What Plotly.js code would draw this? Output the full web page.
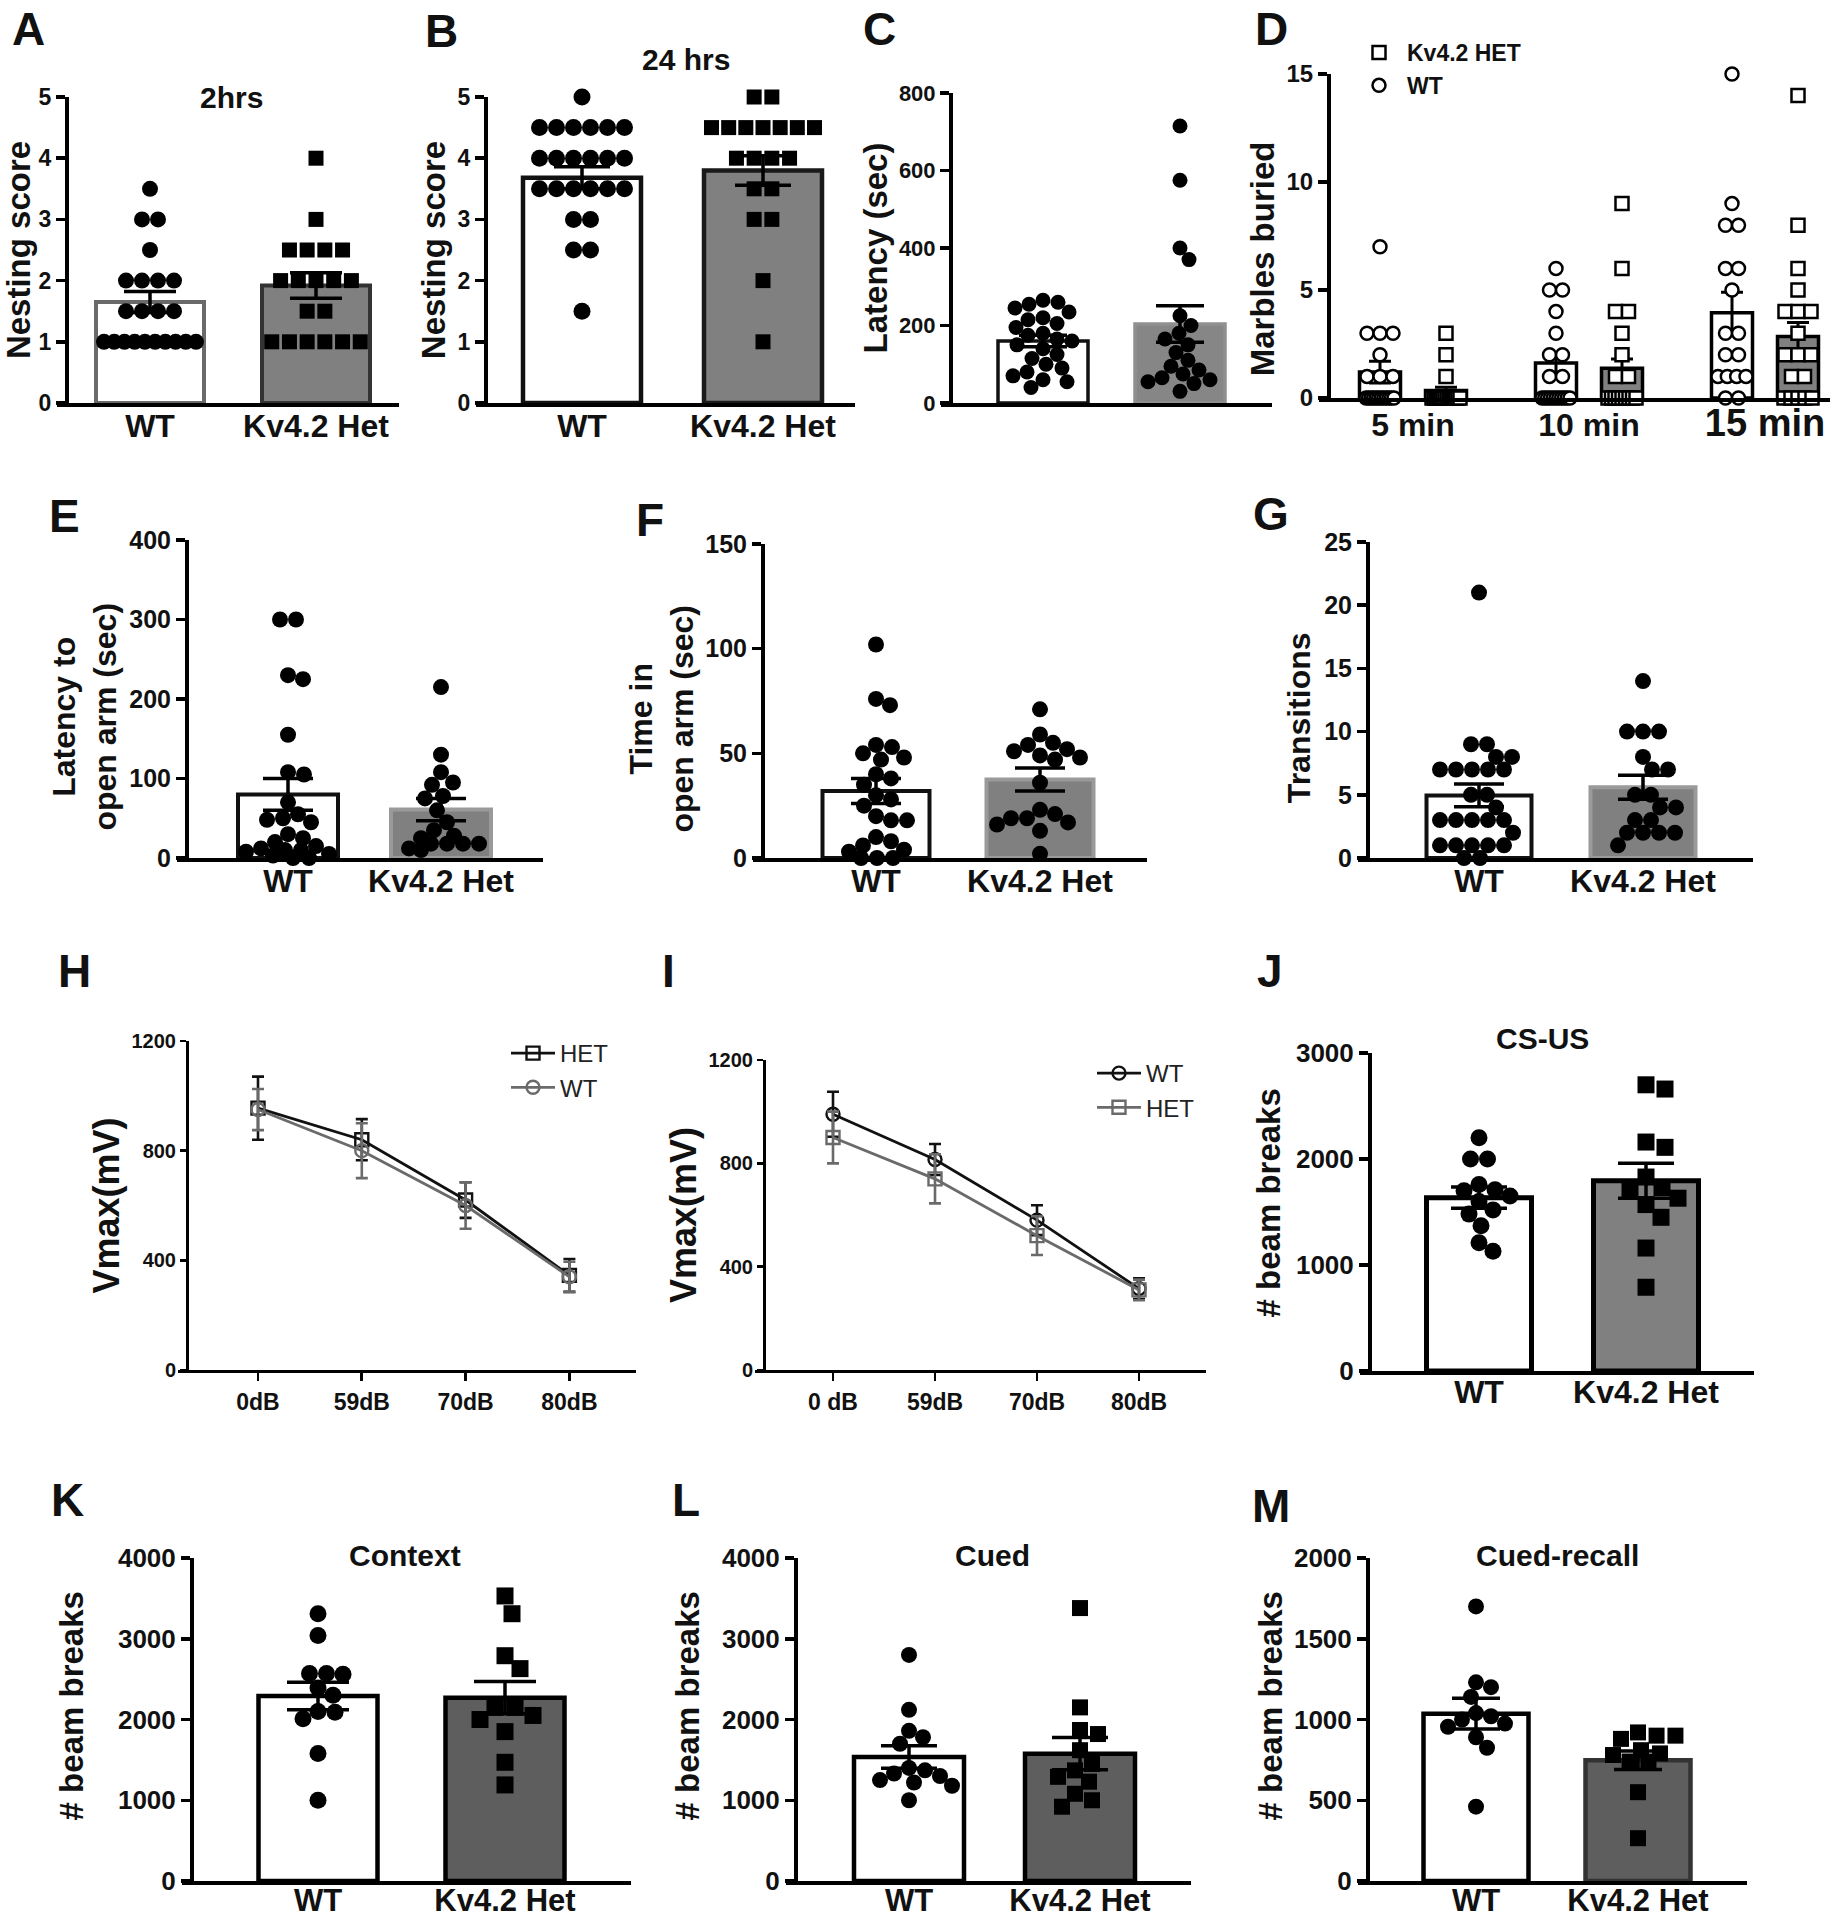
<!DOCTYPE html>
<html><head><meta charset="utf-8">
<script src="https://cdn.plot.ly/plotly-3.0.1.min.js"></script>
<style>html,body{margin:0;padding:0;background:#fff}</style>
</head><body>
<div id="chart" style="width:1832px;height:1923px"></div>
<script>
// ================= DATA =================
const groups = ['WT', 'Kv4.2 Het'];

// A: nesting score 2 hrs
const A_wt  = [3.5, 3, 3, 2.5, 2, 2, 2, 2, 1.5, 1.5, 1.5, 1.5, 1, 1, 1, 1, 1, 1, 1, 1, 1, 1];
const A_het = [4, 3, 2.5, 2.5, 2.5, 2.5, 2, 2, 2, 2, 2, 1.5, 1.5, 1, 1, 1, 1, 1, 1];
const A_mean = [1.65, 1.92];
const A_sem  = [0.17, 0.21];

// B: nesting score 24 hrs
const B_wt  = [5, 4.5, 4.5, 4.5, 4.5, 4.5, 4.5, 4, 4, 4, 4, 4, 4, 3.5, 3.5, 3.5, 3.5, 3.5, 3.5, 3, 3, 2.5, 2.5, 1.5];
const B_het = [5, 5, 4.5, 4.5, 4.5, 4.5, 4.5, 4.5, 4.5, 4, 4, 4, 4, 3.5, 3.5, 3, 3, 2, 1];
const B_mean = [3.68, 3.80];
const B_sem  = [0.18, 0.24];

// C: latency (sec)
const C_wt  = [265, 260, 255, 245, 235, 220, 215, 205, 195, 180, 175, 165, 160, 150, 140, 125, 115, 100, 90, 80, 70, 60, 55, 40];
const C_het = [715, 575, 400, 370, 225, 200, 180, 165, 150, 130, 110, 95, 85, 75, 65, 60, 55, 50, 30];
const C_mean = [160, 204];
const C_sem  = [15, 47];

// D: marbles buried
const D_times = ['5 min', '10 min', '15 min'];
const D_wt5   = [7, 3, 3, 3, 2, 1, 1, 1, 0, 0, 0, 0, 0, 0, 0, 0, 0, 0, 0, 0];
const D_wt10  = [6, 5, 5, 4, 3, 2, 2, 1, 1, 0, 0, 0, 0, 0, 0, 0, 0, 0, 0, 0];
const D_wt15  = [15, 9, 8, 8, 6, 6, 5, 3, 3, 2, 2, 1, 1, 1, 1, 0, 0];
const D_het5  = [3, 2, 1, 0, 0, 0, 0, 0, 0, 0, 0, 0, 0, 0, 0, 0, 0];
const D_het10 = [9, 6, 4, 4, 3, 2, 1, 1, 0, 0, 0, 0, 0, 0, 0, 0, 0];
const D_het15 = [14, 8, 6, 5, 4, 4, 4, 3, 2, 2, 2, 1, 1, 0, 0, 0, 0, 0];
const D_wtMean  = [1.2, 1.62, 3.95];
const D_wtSem   = [0.5, 0.42, 0.95];
const D_hetMean = [0.35, 1.38, 2.85];
const D_hetSem  = [0.15, 0.42, 0.65];

// E: latency to open arm (sec)
const E_wt  = [300, 300, 230, 225, 155, 108, 105, 70, 55, 50, 48, 45, 30, 25, 20, 15, 12, 10, 10, 8, 5, 3, 0, 0];
const E_het = [215, 130, 108, 95, 92, 78, 75, 60, 45, 35, 28, 25, 18, 18, 18, 18, 12, 10];
const E_mean = [80, 61];
const E_sem  = [20, 14];

// F: time in open arm (sec)
const F_wt  = [102, 76, 73, 54, 53, 50, 48, 47, 40, 38, 35, 30, 28, 25, 20, 18, 18, 10, 8, 6, 4, 3, 0, 0, 0];
const F_het = [71, 59, 55, 54, 52, 51, 49, 48, 47, 36, 23, 21, 19, 19, 17, 16, 13, 2];
const F_mean = [32, 37.5];
const F_sem  = [6, 5.5];

// G: transitions
const G_wt  = [21, 9, 9, 8, 8, 7, 7, 7, 7, 7, 5, 5, 4, 3, 3, 3, 3, 3, 2, 1, 1, 1, 1, 1, 0, 0];
const G_het = [14, 10, 10, 10, 8, 7, 7, 5, 5, 4, 4, 3, 3, 2, 2, 2, 2, 1];
const G_mean = [4.95, 5.6];
const G_sem  = [0.9, 0.95];

// H, I: startle Vmax (mV)
const H_levels = ['0dB', '59dB', '70dB', '80dB'];
const H_het    = [955, 840, 620, 345];
const H_hetSem = [115, 75, 65, 60];
const H_wt     = [950, 800, 600, 340];
const H_wtSem  = [75, 100, 85, 55];
const I_levels = ['0 dB', '59dB', '70dB', '80dB'];
const I_wt     = [990, 815, 580, 315];
const I_wtSem  = [87, 60, 58, 40];
const I_het    = [900, 740, 520, 310];
const I_hetSem = [100, 95, 75, 40];

// J: CS-US beam breaks
const J_wt  = [2200, 2000, 2000, 1760, 1710, 1700, 1650, 1600, 1520, 1480, 1370, 1210, 1130];
const J_het = [2700, 2660, 2160, 2110, 1830, 1730, 1720, 1630, 1570, 1450, 1160, 790];
const J_mean = [1635, 1795];
const J_sem  = [100, 165];

// K: Context
const K_wt  = [3310, 3040, 2570, 2570, 2560, 2390, 2300, 2100, 2090, 2010, 1580, 1000];
const K_het = [3530, 3310, 2790, 2630, 2150, 2150, 2050, 2000, 1850, 1470, 1190];
const K_mean = [2290, 2270];
const K_sem  = [170, 200];

// L: Cued
const L_wt  = [2800, 2120, 1860, 1780, 1700, 1400, 1370, 1330, 1300, 1250, 1220, 1180, 1000];
const L_het = [3380, 2150, 1870, 1820, 1620, 1450, 1370, 1290, 1230, 1080, 1000, 920];
const L_mean = [1535, 1577];
const L_sem  = [140, 200];

// M: Cued-recall
const M_wt  = [1700, 1230, 1200, 1140, 1040, 1020, 1000, 975, 955, 890, 825, 460];
const M_het = [920, 900, 900, 880, 810, 790, 780, 740, 740, 550, 265];
const M_mean = [1036, 748];
const M_sem  = [95, 57];

// ================= LAYOUT GEOMETRY (pixels) =================
const W = 1832, H = 1923;
const FONT = 'Liberation Sans, Arial, Helvetica, sans-serif';
const GEOM = {
  A: {ax: 66,   xEnd: 399,  c0: 150,  sp: 166,   bw: 108, top: 97,   bot: 403},
  B: {ax: 485,  xEnd: 855,  c0: 582,  sp: 181,   bw: 118, top: 97,   bot: 403},
  C: {ax: 950,  xEnd: 1272, c0: 1043, sp: 137,   bw: 90,  top: 93,   bot: 403},
  D: {ax: 1328, xEnd: 1830, c0: 1413, sp: 176,   bw: 41,  top: 74,   bot: 398},
  E: {ax: 186,  xEnd: 543,  c0: 288,  sp: 153,   bw: 100, top: 540,  bot: 858},
  F: {ax: 762,  xEnd: 1147, c0: 876,  sp: 164,   bw: 107, top: 544,  bot: 858},
  G: {ax: 1367, xEnd: 1753, c0: 1479, sp: 164,   bw: 105, top: 542,  bot: 858},
  H: {ax: 187,  xEnd: 636,  c0: 258,  sp: 103.8, top: 1041, bot: 1370},
  I: {ax: 764,  xEnd: 1206, c0: 833,  sp: 102,   top: 1060, bot: 1370},
  J: {ax: 1369, xEnd: 1754, c0: 1479, sp: 167,   bw: 105, top: 1053, bot: 1371},
  K: {ax: 191,  xEnd: 631,  c0: 318,  sp: 187,   bw: 119, top: 1558, bot: 1881},
  L: {ax: 795,  xEnd: 1191, c0: 909,  sp: 171,   bw: 110, top: 1558, bot: 1881},
  M: {ax: 1367, xEnd: 1747, c0: 1476, sp: 162,   bw: 105, top: 1558, bot: 1881}
};

const traces = [];
const layout = {
  width: W, height: H, margin: {l: 0, r: 0, t: 0, b: 0},
  paper_bgcolor: '#fff', plot_bgcolor: 'rgba(0,0,0,0)',
  showlegend: true, hovermode: false,
  font: {family: FONT, color: '#111'},
  annotations: []
};

function ids(i) {
  const s = i === 1 ? '' : String(i);
  return {x: 'x' + s, y: 'y' + s, xk: 'xaxis' + s, yk: 'yaxis' + s};
}
// slide a rotated axis title along its axis with non-breaking spaces (lead: up, trail: down);
// a zero-width space keeps the padding from being trimmed
function pad(text, lead, trail) {
  const nb = n => n ? '\u200b' + '\u00a0'.repeat(n) : '';
  const nt = n => n ? '\u00a0'.repeat(n) + '\u200b' : '';
  return text.split('<br>').map(t => nb(lead) + t + nt(trail)).join('<br>');
}

// simple Prism-like swarm: equal values form centred rows, others nudged sideways
function swarm(vals, pxY, diam, maxOff, gapF) {
  const off = new Array(vals.length).fill(0);
  const placed = [];
  const minD = diam * gapF;
  const uniq = [...new Set(vals)].sort((a, b) => b - a);
  for (const v of uniq) {
    const idx = [];
    vals.forEach((w, i) => { if (w === v) idx.push(i); });
    const m = idx.length;
    const s = m > 1 ? Math.min(minD, 2 * maxOff / (m - 1)) : 0;
    const base = idx.map((_, k) => (k - (m - 1) / 2) * s);
    const y = v * pxY;
    const room = Math.max(0, maxOff - (m - 1) * s / 2);
    let best = 0, bestScore = -Infinity;
    for (let k = 0; k <= 2 * Math.ceil(room); k++) {
      const sh = (k % 2 ? 1 : -1) * Math.ceil(k / 2);
      if (Math.abs(sh) > room) continue;
      let md = Infinity;
      for (const b of base) for (const p of placed) md = Math.min(md, Math.hypot(b + sh - p.x, y - p.y));
      if (md >= minD * 0.95) { best = sh; break; }
      if (md > bestScore) { bestScore = md; best = sh; }
    }
    base.forEach((b, k) => { off[idx[k]] = b + best; placed.push({x: b + best, y}); });
  }
  return off;
}

function yAxisDef(g, ymax, dtick, tfs, title, titleSize, standoff, lw) {
  return {
    domain: [1 - g.bot / H, 1 - g.top / H], range: [0, ymax],
    anchor: 'free', position: g.ax / W,
    tickmode: 'linear', tick0: 0, dtick: dtick,
    ticks: 'outside', ticklen: 9, tickwidth: lw, tickcolor: '#000',
    showline: true, linewidth: lw, linecolor: '#000',
    showgrid: false, zeroline: false, fixedrange: true,
    tickfont: {family: FONT, size: tfs, color: '#111', weight: 'bold'},
    title: {text: title, font: {family: FONT, size: titleSize, color: '#111', weight: 'bold'}, standoff: standoff}
  };
}

function xAxisDef(g, yId, tickvals, ticktext, tfs, extra) {
  const x0 = g.ax - 9;
  return Object.assign({
    domain: [x0 / W, g.xEnd / W],
    range: [(x0 - g.c0) / g.sp, (g.xEnd - g.c0) / g.sp],
    anchor: yId, tickmode: 'array', tickvals: tickvals, ticktext: ticktext,
    ticks: '', showline: true, linewidth: 3.5, linecolor: '#000',
    showgrid: false, zeroline: false, fixedrange: true,
    tickfont: {family: FONT, size: tfs, color: '#111', weight: 'bold'},
    ticklabelstandoff: -8
  }, extra || {});
}

function barPanel(i, key, wt, het, mean, sem, st) {
  const g = GEOM[key], id = ids(i);
  const pxY = (g.bot - g.top) / st.ymax;
  const hs = st.hs || st.ms;
  const oW = swarm(wt, pxY, st.ms, (g.bw - st.ms) / 2, 1.0);
  const oH = swarm(het, pxY, hs, (g.bw - hs) / 2, st.hetSym === 'square' ? 1.18 : 1.0);
  traces.push({
    type: 'bar', x: [0, 1], y: mean, width: g.bw / g.sp, xaxis: id.x, yaxis: id.y,
    marker: {color: [st.wtFill, st.hetFill], line: {color: [st.wtLine, st.hetLine], width: st.lw}},
    error_y: {type: 'data', array: sem, visible: true, color: '#000', thickness: 3.5, width: st.ew},
    showlegend: false, hoverinfo: 'skip'
  });
  traces.push({
    type: 'scatter', mode: 'markers', xaxis: id.x, yaxis: id.y, cliponaxis: false,
    x: wt.map((v, k) => 0 + oW[k] / g.sp), y: wt,
    marker: {symbol: 'circle', size: st.ms, color: '#000'}, showlegend: false, hoverinfo: 'skip'
  });
  traces.push({
    type: 'scatter', mode: 'markers', xaxis: id.x, yaxis: id.y, cliponaxis: false,
    x: het.map((v, k) => 1 + oH[k] / g.sp), y: het,
    marker: {symbol: st.hetSym, size: hs, color: '#000'}, showlegend: false, hoverinfo: 'skip'
  });
  layout[id.yk] = yAxisDef(g, st.ymax, st.dtick, st.tfs, st.title, st.titleSize, st.standoff, 3.5);
  const xx = st.noLabels ? {showticklabels: false} : {};
  if (st.xStand !== undefined) xx.ticklabelstandoff = st.xStand;
  layout[id.xk] = xAxisDef(g, id.y, [0, 1], st.noLabels ? ['', ''] : groups, st.xfs || 32, xx);
}

const gray = '#808080', dark = '#5e5e5e';
barPanel(1, 'A', A_wt, A_het, A_mean, A_sem, {ymax: 5, dtick: 1, tfs: 23, title: 'Nesting score', titleSize: 33, standoff: 9,
  ms: 16, hs: 15, hetSym: 'square', wtFill: '#fff', hetFill: gray, wtLine: '#6a6a6a', hetLine: '#333', lw: 4, ew: 26});
barPanel(2, 'B', B_wt, B_het, B_mean, B_sem, {ymax: 5, dtick: 1, tfs: 23, title: 'Nesting score', titleSize: 33, standoff: 0,
  ms: 17, hs: 15, hetSym: 'square', wtFill: '#fff', hetFill: gray, wtLine: '#111', hetLine: '#1a1a1a', lw: 4.5, ew: 28});
barPanel(3, 'C', C_wt, C_het, C_mean, C_sem, {ymax: 800, dtick: 200, tfs: 22, title: 'Latency (sec)', titleSize: 33, standoff: 0,
  ms: 15, hetSym: 'circle', wtFill: '#fff', hetFill: '#868686', wtLine: '#111', hetLine: '#909090', lw: 3.5, ew: 24, noLabels: true});
barPanel(5, 'E', E_wt, E_het, E_mean, E_sem, {ymax: 400, dtick: 100, tfs: 25, title: pad('Latency to<br>open arm (sec)', 0, 4), titleSize: 32, standoff: 1,
  ms: 16, hetSym: 'circle', wtFill: '#fff', hetFill: gray, wtLine: '#111', hetLine: '#9a9a9a', lw: 4, ew: 25});
barPanel(6, 'F', F_wt, F_het, F_mean, F_sem, {ymax: 150, dtick: 50, tfs: 25, title: pad('Time in<br>open arm (sec)', 0, 4), titleSize: 32, standoff: 0,
  ms: 16, hetSym: 'circle', wtFill: '#fff', hetFill: gray, wtLine: '#111', hetLine: '#9a9a9a', lw: 4, ew: 25});
barPanel(7, 'G', G_wt, G_het, G_mean, G_sem, {ymax: 25, dtick: 5, tfs: 25, title: pad('Transitions', 0, 4), titleSize: 32, standoff: 2,
  ms: 16, hetSym: 'circle', wtFill: '#fff', hetFill: gray, wtLine: '#111', hetLine: '#9a9a9a', lw: 4, ew: 25});
barPanel(10, 'J', J_wt, J_het, J_mean, J_sem, {ymax: 3000, dtick: 1000, tfs: 26, title: pad('# beam breaks', 2, 0), titleSize: 33, standoff: 4,
  ms: 17, hetSym: 'square', wtFill: '#fff', hetFill: gray, wtLine: '#000', hetLine: '#000', lw: 5, ew: 28, xStand: -10});
barPanel(11, 'K', K_wt, K_het, K_mean, K_sem, {ymax: 4000, dtick: 1000, tfs: 26, title: pad('# beam breaks', 3, 0), titleSize: 33, standoff: 23,
  ms: 17, hetSym: 'square', wtFill: '#fff', hetFill: dark, wtLine: '#000', hetLine: '#000', lw: 4.5, ew: 31, xStand: -11, xfs: 31});
barPanel(12, 'L', L_wt, L_het, L_mean, L_sem, {ymax: 4000, dtick: 1000, tfs: 26, title: pad('# beam breaks', 3, 0), titleSize: 33, standoff: 11,
  ms: 16, hetSym: 'square', wtFill: '#fff', hetFill: dark, wtLine: '#000', hetLine: '#000', lw: 4.5, ew: 28, xStand: -11, xfs: 31});
barPanel(13, 'M', M_wt, M_het, M_mean, M_sem, {ymax: 2000, dtick: 500, tfs: 26, title: pad('# beam breaks', 3, 0), titleSize: 33, standoff: 0,
  ms: 16, hetSym: 'square', wtFill: '#fff', hetFill: dark, wtLine: '#000', hetLine: '#333', lw: 4.5, ew: 24, xStand: -11, xfs: 31});

// ---- D: grouped marbles panel ----
(function () {
  const g = GEOM.D, id = ids(4);
  const dOff = 33 / g.sp, ms = 13;
  const pxY = (g.bot - g.top) / 15;
  const maxOff = (g.bw - ms) / 2;
  const wtSets = [D_wt5, D_wt10, D_wt15], hetSets = [D_het5, D_het10, D_het15];
  const pos = D_times.map((t, k) => k);
  traces.push({type: 'bar', x: pos.map(p => p - dOff), y: D_wtMean, width: g.bw / g.sp, xaxis: id.x, yaxis: id.y,
    marker: {color: '#fff', line: {color: '#000', width: 3.5}},
    error_y: {type: 'data', array: D_wtSem, color: '#000', thickness: 3, width: 11}, showlegend: false, hoverinfo: 'skip'});
  traces.push({type: 'bar', x: pos.map(p => p + dOff), y: D_hetMean, width: g.bw / g.sp, xaxis: id.x, yaxis: id.y,
    marker: {color: gray, line: {color: '#000', width: 3.5}},
    error_y: {type: 'data', array: D_hetSem, color: '#000', thickness: 3, width: 11}, showlegend: false, hoverinfo: 'skip'});
  const wx = [], wy = [], hx = [], hy = [];
  wtSets.forEach((vals, k) => { const o = swarm(vals, pxY, ms, maxOff, 1.0); vals.forEach((v, j) => { wx.push(k - dOff + o[j] / g.sp); wy.push(v); }); });
  hetSets.forEach((vals, k) => { const o = swarm(vals, pxY, ms, maxOff, 1.0); vals.forEach((v, j) => { hx.push(k + dOff + o[j] / g.sp); hy.push(v); }); });
  traces.push({type: 'scatter', mode: 'markers', name: 'WT', x: wx, y: wy, xaxis: id.x, yaxis: id.y, cliponaxis: false,
    marker: {symbol: 'circle', size: ms, color: '#fff', line: {color: '#000', width: 2.5}}, legend: 'legend', legendrank: 2, hoverinfo: 'skip'});
  traces.push({type: 'scatter', mode: 'markers', name: 'Kv4.2 HET', x: hx, y: hy, xaxis: id.x, yaxis: id.y, cliponaxis: false,
    marker: {symbol: 'square', size: ms, color: '#fff', line: {color: '#000', width: 2.5}}, legend: 'legend', legendrank: 1, hoverinfo: 'skip'});
  layout[id.yk] = yAxisDef(g, 15, 5, 24, pad('Marbles buried', 0, 5), 33, 0, 3.5);
  const tt = D_times.slice(); tt[2] = '<span style="font-size:38px">' + tt[2] + '</span>';
  layout[id.xk] = xAxisDef(g, id.y, pos, tt, 32, {ticklabelstandoff: -4});
  layout.legend = {x: 1351 / W, y: 1 - 31 / H, xanchor: 'left', yanchor: 'top', bgcolor: 'rgba(0,0,0,0)', itemwidth: 46,
    font: {family: FONT, size: 23, color: '#111', weight: 'bold'}, tracegroupgap: 2, traceorder: 'normal'};
})();

// ---- H, I: line panels ----
function linePanel(i, key, levels, series, legendId, legendPos) {
  const g = GEOM[key], id = ids(i);
  const pos = levels.map((t, k) => k);
  series.forEach((s, k) => {
    traces.push({type: 'scatter', mode: 'lines+markers', name: s.name, x: pos, y: s.y, xaxis: id.x, yaxis: id.y,
      cliponaxis: false, legend: legendId, legendgroup: legendId + s.name, legendrank: k + 1,
      line: {color: s.color, width: 2.8},
      marker: {symbol: s.symbol, size: 13, color: s.color, line: {color: s.color, width: 2.4}},
      error_y: {type: 'data', array: s.sem, color: s.color, thickness: 2.6, width: 6}, hoverinfo: 'skip'});
  });
  layout[id.yk] = yAxisDef(g, 1200, 400, 20, 'Vmax(mV)', 36, 0, 2.8);
  layout[id.yk].ticklen = 6;
  layout[id.xk] = xAxisDef(g, id.y, pos, levels, 23,
    {ticks: 'outside', ticklen: 8, tickwidth: 2.8, tickcolor: '#000', linewidth: 3, ticklabelstandoff: 1});
  layout[legendId] = {x: legendPos[0] / W, y: 1 - legendPos[1] / H, xanchor: 'left', yanchor: 'top', itemwidth: 44,
    bgcolor: 'rgba(0,0,0,0)', font: {family: FONT, size: 24, color: '#222'}, tracegroupgap: 12, traceorder: 'normal'};
}
linePanel(8, 'H', H_levels, [
  {name: 'HET', y: H_het, sem: H_hetSem, color: '#111', symbol: 'square-open'},
  {name: 'WT', y: H_wt, sem: H_wtSem, color: '#6a6a6a', symbol: 'circle-open'}
], 'legend2', [506, 1031]);
linePanel(9, 'I', I_levels, [
  {name: 'WT', y: I_wt, sem: I_wtSem, color: '#111', symbol: 'circle-open'},
  {name: 'HET', y: I_het, sem: I_hetSem, color: '#6a6a6a', symbol: 'square-open'}
], 'legend3', [1092, 1051]);

// ---- panel letters and panel titles ----
const letters = [['A', 29, 1], ['B', 441, 3], ['C', 879, 1], ['D', 1271, 1], ['E', 64, 488], ['F', 650, 492],
  ['G', 1271, 486], ['H', 74, 943], ['I', 668, 943], ['J', 1270, 943], ['K', 67, 1472], ['L', 686, 1472], ['M', 1271, 1478]];
letters.forEach(([t, x, y]) => layout.annotations.push({text: t, x: x / W, y: 1 - y / H, xref: 'paper', yref: 'paper',
  xanchor: 'center', yanchor: 'top', showarrow: false, font: {family: FONT, size: 46, color: '#111', weight: 'bold'}}));
const panelTitles = [['2hrs', 232, 98], ['24 hrs', 686, 60], ['CS-US', 1542, 1038], ['Context', 405, 1555],
  ['Cued', 992, 1555], ['Cued-recall', 1557, 1555]];
panelTitles.forEach(([t, x, y]) => layout.annotations.push({text: t, x: x / W, y: 1 - y / H, xref: 'paper', yref: 'paper',
  xanchor: 'center', yanchor: 'middle', showarrow: false, font: {family: FONT, size: 30, color: '#111', weight: 'bold'}}));

Plotly.newPlot('chart', traces, layout, {displayModeBar: false, staticPlot: true});
</script>
</body></html>
